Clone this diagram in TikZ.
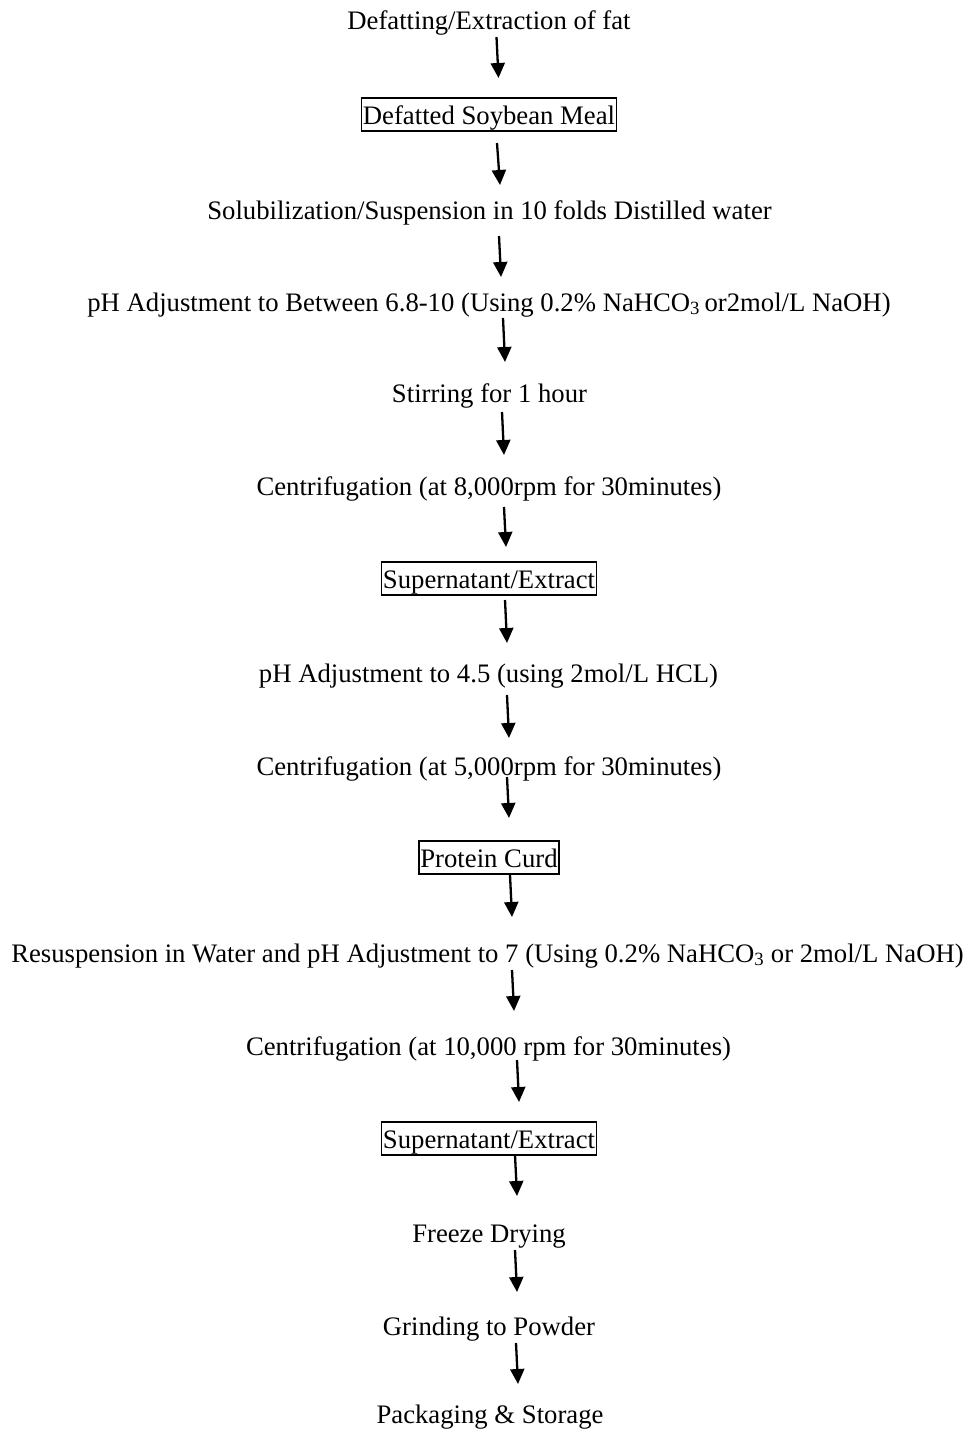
\documentclass[tikz,border=0pt]{standalone}
\usepackage{fontspec}
\setmainfont{Liberation Serif}
\usetikzlibrary{arrows.meta,calc}
\tikzset{
  lbl/.style={anchor=base, inner sep=0pt, font=\fontsize{26.7}{30}\selectfont},
  boxed/.style={lbl, draw, line width=1.4pt, inner xsep=1.5pt, inner ysep=1pt, text height=25pt, text depth=6pt},
  arr/.style={line width=2.3pt, -{Triangle[width=14pt,length=15pt]}}
}
\newcommand\flowar[6]{\draw[arr] ([shift={(#2,#3)}]#1.base) -- ([shift={(#5,#6)}]#4.base);}
\begin{document}
\begin{tikzpicture}[x=1pt,y=-1pt]
\useasboundingbox (0,0) rectangle (969,1432);
\node[lbl] (n1) at (489,29) {Defatting/Extraction of fat};
\node[boxed] (n2) at (489,124) {Defatted Soybean Meal};
\node[lbl] (n3) at (489.5,219) {Solubilization/Suspension in 10 folds Distilled water};
\node[lbl] (n4) at (489,311) {pH Adjustment to Between 6.8-10 (Using 0.2\% NaHCO\textsubscript{3}\,or2mol/L NaOH)};
\node[lbl] (n5) at (489.5,402) {Stirring for 1 hour};
\node[lbl] (n6) at (489,495) {Centrifugation (at 8,000rpm for 30minutes)};
\node[boxed] (n7) at (489,588) {Supernatant/Extract};
\node[lbl] (n8) at (488.5,682) {pH Adjustment to 4.5 (using 2mol/L HCL)};
\node[lbl] (n9) at (489,775) {Centrifugation (at 5,000rpm for 30minutes)};
\node[boxed] (n10) at (489,867) {Protein Curd};
\node[lbl] (n11) at (487.5,962) {Resuspension in Water and pH Adjustment to 7 (Using 0.2\% NaHCO\textsubscript{3} or 2mol/L NaOH)};
\node[lbl] (n12) at (488.5,1055) {Centrifugation (at 10,000 rpm for 30minutes)};
\node[boxed] (n13) at (489,1148) {Supernatant/Extract};
\node[lbl] (n14) at (489,1242) {Freeze Drying};
\node[lbl] (n15) at (489,1335) {Grinding to Powder};
\node[lbl] (n16) at (490,1423) {Packaging \& Storage};
\flowar{n1}{7.5}{8}{n2}{9.5}{-46}
\flowar{n2}{8}{19}{n3}{10.5}{-34}
\flowar{n3}{9.5}{17}{n4}{12}{-34}
\flowar{n4}{14}{7}{n5}{15.5}{-40}
\flowar{n5}{12.5}{10}{n6}{15}{-40}
\flowar{n6}{15}{12}{n7}{17}{-41}
\flowar{n7}{16}{12}{n8}{18.5}{-39}
\flowar{n8}{18.5}{13}{n9}{20}{-37}
\flowar{n9}{18}{2}{n10}{20}{-49}
\flowar{n10}{21}{8}{n11}{24.5}{-45}
\flowar{n11}{24.5}{8}{n12}{25.5}{-44}
\flowar{n12}{28.5}{5}{n13}{30}{-46}
\flowar{n13}{26}{7}{n14}{28}{-46}
\flowar{n14}{26}{8}{n15}{28}{-43}
\flowar{n15}{27}{8}{n16}{28}{-39}
\end{tikzpicture}
\end{document}
